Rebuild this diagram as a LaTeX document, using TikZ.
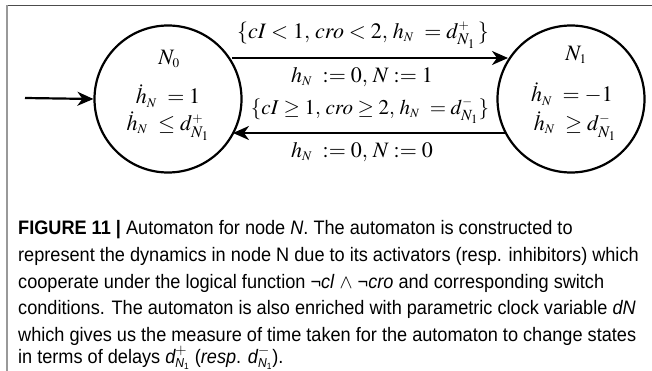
\documentclass[tikz,border=0pt]{standalone}
\usepackage{fontspec}
\usepackage{mathptmx}
\setmainfont{Liberation Serif}
\newfontfamily\capfont[FakeStretch=0.93]{Liberation Sans}
\usetikzlibrary{arrows.meta}
\tikzset{
  state/.style={circle, draw, line width=2.2pt, minimum size=147pt, inner sep=0pt},
  trans/.style={line width=2.2pt, -{Stealth[length=16pt,width=14pt,inset=5pt]}},
  lab/.style={font=\fontsize{22}{25}\selectfont, inner sep=0pt},
  capline/.style={anchor=base west, inner sep=0pt, font=\capfont\fontsize{19.5}{22}\selectfont},
}
\newcommand{\hN}{h_{\scriptscriptstyle N}}
\newcommand{\dhN}{\dot{h}_{\scriptscriptstyle N}}
\newcommand{\dNone}[1]{d^{\scriptscriptstyle #1}_{N_{\scriptscriptstyle 1}}}
\newcommand{\cd}{\mbox{\capfont\itshape d}}
\newcommand{\cNone}{\mbox{\capfont\itshape\fontsize{13}{13}\selectfont N}_{\mbox{\capfont\fontsize{9}{9}\selectfont 1}}}
\begin{document}
\begin{tikzpicture}[x=1pt,y=-1pt]
\useasboundingbox (0,0) rectangle (652,371);
% frame
\draw[line width=1.8pt, color=black!70] (7,5.5) -- (652,5.5);
\draw[line width=1.8pt, color=black!40] (7,5.5) -- (7,371);
% states
\node[state] (n0) at (168,99) {};
\node[state] (n1) at (571,99) {};
\node[lab] (n0a) at (169,59) {$N_{\scriptscriptstyle 0}$};
\node[lab] (n0b) at (168,96) {$\dhN\ =1$};
\node[lab] (n0c) at (168,126) {$\dhN\ \le \dNone{+}$};
\node[lab] (n1a) at (576,55) {$N_{\scriptscriptstyle 1}$};
\node[lab] (n1b) at (572,94) {$\dhN\ = -1$};
\node[lab] (n1c) at (575,126) {$\dhN\ \ge \dNone{-}$};
% initial arrow
\coordinate (init) at (25,98);
\draw[trans] (init) -- (n0.180);
% transitions
\path (n0) ++(64,-41) coordinate (a0);
\path (n1) ++(-63,-41) coordinate (a1);
\path (n1) ++(-66,34) coordinate (b1);
\path (n0) ++(65,34) coordinate (b0);
\draw[trans] (a0) -- (a1);
\draw[trans] (b1) -- (b0);
\node[lab] (l1) at (363,35) {$\{cI<1,\, cro<2,\, \hN\ = \dNone{+}\,\}$};
\node[lab] (l2) at (362,77) {$\hN\ := 0,\, N := 1$};
\node[lab, font=\fontsize{21}{24}\selectfont] (l3) at (370,111) {$\{cI\ge 1,\, cro\ge 2,\, \hN\ = \dNone{-}\}$};
\node[lab] (l4) at (362,152) {$\hN\ := 0,\, N := 0$};
% caption
\node[capline] (c1) at (18,234) {\textbf{FIGURE 11 |} Automaton for node \textit{N}. The automaton is constructed to};
\node[capline] (c2) at (18,261) {represent the dynamics in node N due to its activators (resp. inhibitors) which};
\node[capline] (c3) at (18,288) {cooperate under the logical function ¬\textit{cl} $\wedge$ ¬\textit{cro} and corresponding switch};
\node[capline] (c4) at (18,314) {conditions. The automaton is also enriched with parametric clock variable \textit{dN}};
\node[capline] (c5) at (18,341) {which gives us the measure of time taken for the automaton to change states};
\node[capline] (c6) at (18,363) {in terms of delays $\cd^{+}_{\cNone}$ (\textit{resp}. $\cd^{-}_{\cNone}$).};
\end{tikzpicture}
\end{document}
